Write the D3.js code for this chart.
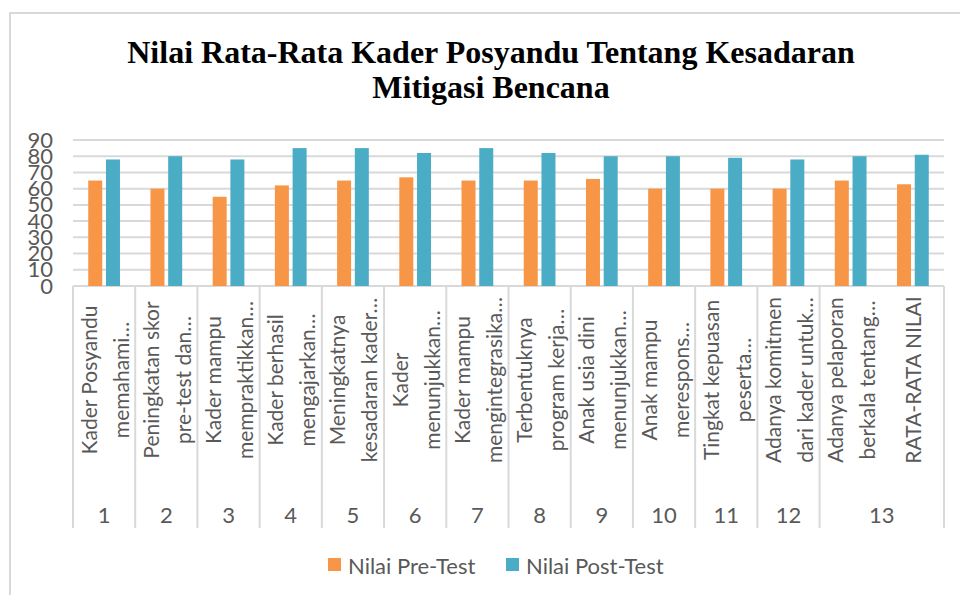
<!DOCTYPE html>
<html>
<head>
<meta charset="utf-8">
<script src="https://cdn.jsdelivr.net/npm/d3@7"></script>
<style>
  body { margin: 0; background: #fff; }
  svg { display: block; }
</style>
</head>
<body>
<div id="chart"></div>
<script>
// category labels (Excel wrapped + truncated), group number for each category
var categories = [
  "Kader Posyandu\nmemahami…",
  "Peningkatan skor\npre-test dan…",
  "Kader mampu\nmempraktikkan…",
  "Kader berhasil\nmengajarkan…",
  "Meningkatnya\nkesadaran kader…",
  "Kader\nmenunjukkan…",
  "Kader mampu\nmengintegrasika…",
  "Terbentuknya\nprogram kerja…",
  "Anak usia dini\nmenunjukkan…",
  "Anak mampu\nmerespons…",
  "Tingkat kepuasan\npeserta…",
  "Adanya komitmen\ndari kader untuk…",
  "Adanya pelaporan\nberkala tentang…",
  "RATA-RATA NILAI"
];
var groups = ["1", "2", "3", "4", "5", "6", "7", "8", "9", "10", "11", "12", "13", "13"];
var preTest = [65, 60, 55, 62, 65, 67, 65, 65, 66, 60, 60, 60, 65, 62.7];
var postTest = [78, 80, 78, 85, 85, 82, 85, 82, 80, 80, 79, 78, 80, 80.9];
var seriesNames = ["Nilai Pre-Test", "Nilai Post-Test"];
var seriesColors = ["#F79646", "#4BACC6"];
var yTicks = [0, 10, 20, 30, 40, 50, 60, 70, 80, 90];

(function () {
var width = 960, height = 595;
var plotLeft = 73, plotRight = 944, plotTop = 140, plotBottom = 286;
var gridColor = "#d9d9d9", textColor = "#595959";
var axisFont = "Lato, 'Open Sans', sans-serif";

var svg = d3.select("#chart").append("svg")
    .attr("width", width).attr("height", height);

// chart border (only top and left visible in the crop)
svg.append("path")
    .attr("d", "M10," + height + "V13H" + width)
    .attr("fill", "none").attr("stroke", gridColor).attr("stroke-width", 2);

// title
var title = svg.append("text")
    .attr("text-anchor", "middle")
    .style("font-family", "'Liberation Serif', 'Times New Roman', serif")
    .style("font-weight", "bold")
    .style("font-size", "32px")
    .attr("fill", "#000");
title.append("tspan").attr("x", 491).attr("y", 63).text("Nilai Rata-Rata Kader Posyandu Tentang Kesadaran");
title.append("tspan").attr("x", 491).attr("y", 98).text("Mitigasi Bencana");

var x = d3.scaleBand().domain(d3.range(categories.length)).range([plotLeft, plotRight]).padding(0);
var bw = x.bandwidth();
var xs = d3.scaleBand().domain([0, 1]).range([bw * 0.245, bw * 0.755]).paddingInner(0.21);
var y = d3.scaleLinear().domain([0, 90]).range([plotBottom, plotTop]);

// gridlines
svg.append("g").selectAll("line")
    .data(yTicks)
    .join("line")
    .attr("x1", plotLeft).attr("x2", plotRight)
    .attr("y1", function (d) { return y(d); })
    .attr("y2", function (d) { return y(d); })
    .attr("stroke", gridColor).attr("stroke-width", 2);

// y axis labels
var yAxis = svg.append("g")
    .attr("transform", "translate(" + (plotLeft - 20) + ",0)")
    .call(d3.axisLeft(y).tickValues(yTicks).tickSize(0).tickPadding(0));
yAxis.select(".domain").remove();
yAxis.selectAll("text")
    .attr("fill", textColor)
    .style("font-family", axisFont)
    .style("font-size", "22px");

// bars
var data = categories.map(function (c, i) { return [preTest[i], postTest[i]]; });
var cat = svg.append("g").selectAll("g")
    .data(data)
    .join("g")
    .attr("transform", function (d, i) { return "translate(" + x(i) + ",0)"; });
cat.selectAll("rect")
    .data(function (d) { return d; })
    .join("rect")
    .attr("x", function (d, j) { return xs(j); })
    .attr("width", xs.bandwidth())
    .attr("y", function (d) { return y(d); })
    .attr("height", function (d) { return y(0) - y(d); })
    .attr("fill", function (d, j) { return seriesColors[j]; });

// category axis: boundaries between groups
var bounds = [0];
for (var i = 1; i < groups.length; i++) {
    if (groups[i] !== groups[i - 1]) bounds.push(i);
}
bounds.push(groups.length);
svg.append("g").selectAll("line")
    .data(bounds)
    .join("line")
    .attr("x1", function (d) { return d < groups.length ? x(d) : x(d - 1) + bw; })
    .attr("x2", function (d) { return d < groups.length ? x(d) : x(d - 1) + bw; })
    .attr("y1", plotBottom).attr("y2", 528)
    .attr("stroke", gridColor).attr("stroke-width", 2);

// rotated category labels
var lineGap = 32, labelMid = 380;
categories.forEach(function (c, i) {
    var lines = c.split("\n");
    var cx = x(i) + bw / 2;
    lines.forEach(function (t, j) {
        var lx = cx + (j - (lines.length - 1) / 2) * lineGap;
        svg.append("text")
            .attr("transform", "translate(" + lx + "," + labelMid + ") rotate(-90)")
            .attr("text-anchor", "middle")
            .attr("dominant-baseline", "central")
            .attr("fill", textColor)
            .style("font-family", axisFont)
            .style("font-size", "21px")
            .text(t);
    });
});

// group numbers
var groupLabels = [];
for (var k = 0; k < bounds.length - 1; k++) {
    var a = bounds[k], b = bounds[k + 1];
    groupLabels.push({ name: groups[a], cx: (x(a) + x(b - 1) + bw) / 2 });
}
svg.append("g").selectAll("text")
    .data(groupLabels)
    .join("text")
    .attr("x", function (d) { return d.cx; })
    .attr("y", 514)
    .attr("text-anchor", "middle")
    .attr("dominant-baseline", "central")
    .attr("fill", textColor)
    .style("font-family", axisFont)
    .style("font-size", "22px")
    .text(function (d) { return d.name; });

// legend
var legend = svg.append("g").selectAll("g")
    .data(seriesNames)
    .join("g")
    .attr("transform", function (d, i) { return "translate(" + (i === 0 ? 328 : 506) + ",565)"; });
legend.append("rect")
    .attr("x", 0).attr("y", -7).attr("width", 13).attr("height", 13)
    .attr("fill", function (d, i) { return seriesColors[i]; });
legend.append("text")
    .attr("x", 20).attr("y", 0)
    .attr("dominant-baseline", "central")
    .attr("fill", textColor)
    .style("font-family", axisFont)
    .style("font-size", "22px")
    .text(function (d) { return d; });
})();
</script>
</body>
</html>
